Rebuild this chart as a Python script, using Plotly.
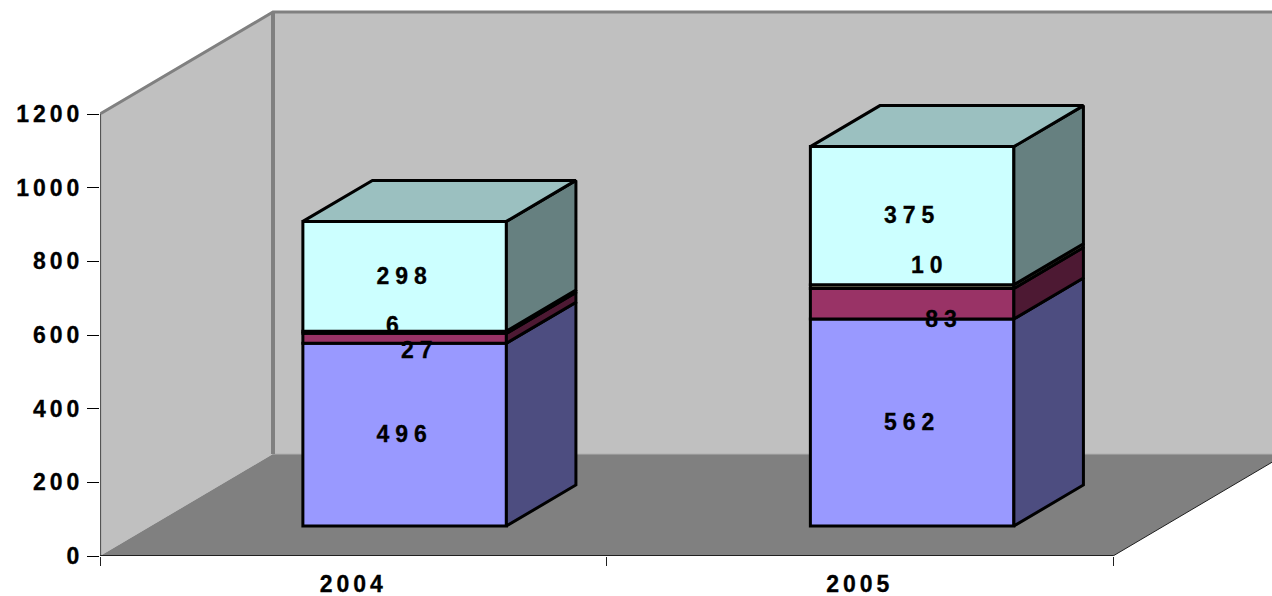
import plotly.graph_objects as go

# ---- data ----
years = ["2004", "2005"]
series_a = [496, 562]
series_b = [27, 83]
series_c = [6, 10]
series_d = [298, 375]
y_ticks = [0, 200, 400, 600, 800, 1000, 1200]

# ---- styling ----
front_colors = ["#9999FF", "#993366", "#8C8C70", "#CCFFFF"]
side_colors = ["#4D4D80", "#4D1933", "#808066", "#668080"]
lid_color = "#9BC0C0"
all_series = [series_a, series_b, series_c, series_d]

UNIT_X = 506.5            # px per category
UNIT_Y = 442 / 1200       # px per value
DEPTH_X = 173 / UNIT_X    # wall depth in category units
DEPTH_Y = 102 / UNIT_Y    # wall depth in value units
GAP = 30 / 102            # share of depth in front of a bar
BAR_DEPTH = 41 / 102      # share of depth taken by a bar
BAR_W = 203.5 / UNIT_X
BAR_SHIFT = [0.5 / UNIT_X, 1.5 / UNIT_X]  # fine horizontal placement per category
LABEL_DROP = 5.0          # value units, all data labels

# label nudges (category units, value units), by (series, year)
nudge = {
    (1, 0): (0.030, -34), (2, 0): (-0.018, 19),
    (1, 1): (0.063, -43), (2, 1): (0.035, 57),
}


def proj(x, v, d):
    """Oblique projection of a point at depth share d onto the 2D axes."""
    return x + d * DEPTH_X, v + d * DEPTH_Y


def poly_path(pts):
    return "M " + " L ".join(f"{x},{y}" for x, y in pts) + " Z"


XMAX = 1172 / UNIT_X
YMAX = 556 / UNIT_Y
YTOP = y_ticks[-1]
NCAT = len(years)

shapes = []
# back wall
shapes.append(dict(type="path", layer="below", xref="x", yref="y",
                   path=poly_path([proj(0, 0, 1), proj(0, YTOP, 1), proj(NCAT, YTOP, 1), proj(NCAT, 0, 1)]),
                   fillcolor="#C0C0C0", line=dict(width=0)))
# left wall
shapes.append(dict(type="path", layer="below", xref="x", yref="y",
                   path=poly_path([proj(0, 0, 0), proj(0, YTOP, 0), proj(0, YTOP, 1), proj(0, 0, 1)]),
                   fillcolor="#C0C0C0", line=dict(width=0)))
# floor
shapes.append(dict(type="path", layer="below", xref="x", yref="y",
                   path=poly_path([proj(0, 0, 0), proj(NCAT, 0, 0), proj(NCAT, 0, 1), proj(0, 0, 1)]),
                   fillcolor="#808080", line=dict(width=0)))
# line where floor meets back wall
p0, p1 = proj(0, 0, 1), proj(NCAT, 0, 1)
shapes.append(dict(type="line", layer="below", xref="x", yref="y",
                   x0=p0[0], y0=p0[1], x1=p1[0], y1=p1[1],
                   line=dict(color="#B0B0B0", width=1)))

fig = go.Figure()


def line_trace(pts, color, width):
    fig.add_trace(go.Scatter(x=[p[0] for p in pts], y=[p[1] for p in pts], mode="lines",
                             line=dict(color=color, width=width), hoverinfo="skip",
                             cliponaxis=False, showlegend=False))


# wall edges
line_trace([proj(0, YTOP, 0), proj(0, YTOP, 1), proj(NCAT, YTOP, 1)], "#808080", 3)
line_trace([proj(0, 0, 1), proj(0, YTOP, 1)], "#808080", 4)
line_trace([proj(0, 0, 0), proj(0, YTOP, 0)], "#A8A8A8", 3)

# bars
for s, values in enumerate(all_series):
    xs, bases = [], []
    for c in range(NCAT):
        base = sum(all_series[k][c] for k in range(s))
        fx, fb = proj(c + 0.5 + BAR_SHIFT[c], base, GAP)
        xs.append(fx)
        bases.append(fb)
    fig.add_trace(go.Bar(x=xs, y=values, base=bases, width=BAR_W,
                         marker=dict(color=front_colors[s], line=dict(color="black", width=3)),
                         hoverinfo="skip", showlegend=False))

for c in range(NCAT):
    cx = c + 0.5 + BAR_SHIFT[c]
    left = cx - BAR_W / 2
    right = cx + BAR_W / 2
    base = 0
    for s, values in enumerate(all_series):
        top = base + values[c]
        side = [proj(right, base, GAP), proj(right, top, GAP),
                proj(right, top, GAP + BAR_DEPTH), proj(right, base, GAP + BAR_DEPTH),
                proj(right, base, GAP)]
        fig.add_trace(go.Scatter(x=[p[0] for p in side], y=[p[1] for p in side], mode="lines",
                                 fill="toself", fillcolor=side_colors[s],
                                 line=dict(color="black", width=3), hoverinfo="skip",
                                 cliponaxis=False, showlegend=False))
        base = top
    lid = [proj(left, base, GAP), proj(right, base, GAP),
           proj(right, base, GAP + BAR_DEPTH), proj(left, base, GAP + BAR_DEPTH),
           proj(left, base, GAP)]
    fig.add_trace(go.Scatter(x=[p[0] for p in lid], y=[p[1] for p in lid], mode="lines",
                             fill="toself", fillcolor=lid_color,
                             line=dict(color="black", width=3), hoverinfo="skip",
                             cliponaxis=False, showlegend=False))

# data labels
label_font = dict(family="Liberation Sans", size=23, color="black", weight="bold")
for s, values in enumerate(all_series):
    lx, ly = [], []
    for c in range(NCAT):
        base = sum(all_series[k][c] for k in range(s))
        px_, py_ = proj(c + 0.5 + BAR_SHIFT[c], base + values[c] / 2, GAP)
        dx, dy = nudge.get((s, c), (0, 0))
        lx.append(px_ + dx)
        ly.append(py_ + dy - LABEL_DROP)
    fig.add_trace(go.Scatter(x=lx, y=ly, mode="text", text=[str(v) for v in values],
                             textposition="middle center", textfont=label_font,
                             hoverinfo="skip", cliponaxis=False, showlegend=False))

# axis lines
line_trace([proj(0, 0, 0), proj(0, YTOP, 0)], "black", 1)
line_trace([proj(0, 0, 0), proj(NCAT, 0, 0)], "#202020", 2)
line_trace([proj(NCAT, 0, 0), proj(NCAT, 0, 1)], "#202020", 1)

tick_font = dict(family="Liberation Sans", size=23, color="black", weight="bold")
fig.update_layout(
    width=1272, height=596, autosize=False,
    margin=dict(l=100, r=0, t=0, b=40, pad=0),
    paper_bgcolor="white", plot_bgcolor="white",
    barmode="overlay", showlegend=False, shapes=shapes,
    xaxis=dict(range=[0, XMAX], automargin=False, showgrid=False, zeroline=False, showline=False,
               tickmode="array", tickvals=[c + 0.5 for c in range(NCAT)], ticktext=years,
               ticks="outside", ticklen=0, ticklabelstandoff=7, tickfont=tick_font,
               minor=dict(tickmode="array", tickvals=list(range(NCAT + 1)), ticks="outside",
                          ticklen=9, tickwidth=1, tickcolor="#202020")),
    yaxis=dict(range=[0, YMAX], automargin=False, showgrid=False, zeroline=False, showline=False,
               tickmode="array", tickvals=y_ticks, ticks="outside", ticklen=12, tickwidth=1,
               tickcolor="black", tickfont=tick_font, ticklabelstandoff=-1),
)

page_css_js = """
var st = document.createElement('style');
st.textContent = 'html, body { margin: 0; padding: 0; overflow: hidden; } '
  + '.main-svg text { letter-spacing: 4px; stroke: black; stroke-width: 0.3px; } '
  + '.main-svg .textpoint text { letter-spacing: 6px; }';
document.head.appendChild(st);
"""
fig.write_html("out.html", post_script=page_css_js, config=dict(displayModeBar=False))
